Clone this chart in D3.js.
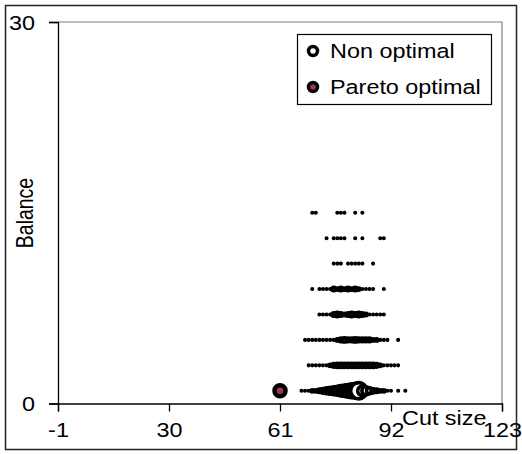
<!DOCTYPE html>
<html>
<head>
<meta charset="utf-8">
<script src="https://cdn.jsdelivr.net/npm/d3@7"></script>
<style>
  body { margin: 0; background: #fff; }
  text { font-family: "Liberation Sans", Arial, sans-serif; fill: #000; }
</style>
</head>
<body>
<div class="vis-bubble"></div>
<script>
// balance levels (y) of the rows of non optimal solutions
const balanceLevels = [1, 3, 5, 7, 9, 11, 13, 15];

// cut sizes and how many solutions sit on each one, per balance row
const cutsB1 = [67, 68, 69, 70, 71, 72, 73, 74, 75, 76, 77, 78, 79, 80, 81, 82, 83, 84, 85, 86, 87, 88, 89, 90, 91, 92, 94, 96];
const countB1 = [1, 1, 1, 2, 2, 3, 5, 8, 11, 14, 18, 24, 30, 36, 43, 50, 60, 20, 15, 8, 4, 3, 2, 2, 1, 1, 1, 1];
const cutsB3 = [69, 70, 71, 72, 73, 74, 75, 76, 77, 78, 79, 80, 81, 82, 83, 84, 85, 86, 87, 88, 89, 90, 91, 92, 93, 94];
const countB3 = [1, 1, 1, 1, 1, 1, 2, 3, 4, 4, 4, 4, 4, 4, 4, 4, 4, 4, 4, 3, 2, 1, 1, 1, 1, 1];
const cutsB5 = [68, 69, 70, 71, 72, 73, 74, 75, 76, 77, 78, 79, 80, 81, 82, 83, 84, 85, 86, 87, 88, 89, 90, 91, 94];
const countB5 = [1, 1, 1, 1, 1, 1, 1, 1, 1, 2, 3, 4, 3, 3, 4, 3, 3, 3, 3, 2, 2, 1, 1, 1, 1];
const cutsB7 = [72, 73, 74, 75, 76, 77, 78, 79, 80, 81, 82, 83, 84, 85, 86, 87, 88, 89, 90];
const countB7 = [1, 1, 1, 1, 3, 4, 3, 2, 3, 4, 3, 4, 3, 2, 1, 1, 1, 1, 1];
const cutsB9 = [70, 72, 73, 74, 75, 76, 77, 78, 79, 80, 81, 82, 83, 84, 85, 86, 87, 90];
const countB9 = [1, 1, 1, 1, 1, 3, 2, 3, 2, 3, 2, 3, 2, 1, 1, 1, 1, 1];
const cutsB11 = [76, 77, 78, 80, 81, 82, 83, 84, 87];
const countB11 = [1, 1, 1, 1, 1, 1, 1, 1, 1];
const cutsB13 = [74, 76, 77, 78, 79, 82, 84, 89, 90];
const countB13 = [1, 1, 1, 1, 1, 1, 1, 1, 1];
const cutsB15 = [70, 71, 77, 78, 79, 82, 84];
const countB15 = [1, 1, 1, 1, 1, 1, 1];

// the single pareto optimal solution
const paretoCut = [61];
const paretoBalance = [1];
const paretoCount = [28];

const xTicks = [-1, 30, 61, 92, 123];
const yTicks = [0, 30];
const seriesNames = ['Non optimal', 'Pareto optimal'];

const draw = () => {
  const W = 522;
  const H = 454;
  const plot = { left: 58, right: 502, top: 22, bottom: 403.5 };
  const stretch = 'scale(1.2,1)';

  const svg = d3.select('.vis-bubble')
    .append('svg')
    .attr('width', W)
    .attr('height', H);

  // outer chart border
  svg.append('rect')
    .attr('x', 5.5).attr('y', 5.5)
    .attr('width', 511).attr('height', 444)
    .attr('fill', 'none')
    .attr('stroke', '#222')
    .attr('stroke-width', 1.5);

  const x = d3.scaleLinear().domain([-1, 123]).range([plot.left, plot.right]);
  const y = d3.scaleLinear().domain([0, 30]).range([plot.bottom, plot.top]);
  const r = d3.scaleSqrt().domain([0, 60]).range([0, 8.13]);
  // heavy border: small bubbles come out solid black
  const sw = (n) => Math.min(3.6, 1.9 * r(n));

  // plot area frame (top / right in grey)
  svg.append('path')
    .attr('d', `M${plot.left},${plot.top}H${plot.right}V${plot.bottom}`)
    .attr('fill', 'none')
    .attr('stroke', '#808080')
    .attr('stroke-width', 1.2);

  // flatten rows into points
  const rows = [
    [cutsB1, countB1], [cutsB3, countB3], [cutsB5, countB5], [cutsB7, countB7],
    [cutsB9, countB9], [cutsB11, countB11], [cutsB13, countB13], [cutsB15, countB15]
  ];
  const nonOpt = [];
  rows.forEach(([cuts, counts], i) => {
    cuts.forEach((c, j) => nonOpt.push({ cut: c, balance: balanceLevels[i], n: counts[j] }));
  });
  const pareto = paretoCut.map((c, i) => ({ cut: c, balance: paretoBalance[i], n: paretoCount[i] }));

  svg.append('g')
    .selectAll('circle')
    .data(nonOpt)
    .enter()
    .append('circle')
    .attr('cx', (d) => x(d.cut))
    .attr('cy', (d) => y(d.balance))
    .attr('r', (d) => r(d.n))
    .attr('fill', '#fff')
    .attr('stroke', '#000')
    .attr('stroke-width', (d) => sw(d.n));

  svg.append('g')
    .selectAll('circle')
    .data(pareto)
    .enter()
    .append('circle')
    .attr('cx', (d) => x(d.cut))
    .attr('cy', (d) => y(d.balance))
    .attr('r', (d) => r(d.n))
    .attr('fill', '#993366')
    .attr('stroke', '#000')
    .attr('stroke-width', 4.5);

  // x axis
  const gx = svg.append('g')
    .attr('transform', `translate(0,${plot.bottom})`)
    .call(d3.axisBottom(x).tickValues(xTicks).tickSize(8).tickFormat((d) => String(d)));
  gx.select('.domain').attr('stroke', '#000').attr('stroke-width', 1.3);
  gx.selectAll('.tick line').attr('stroke', '#000').attr('stroke-width', 1.3);
  gx.selectAll('.tick text')
    .attr('y', 0).attr('dy', null)
    .attr('transform', `translate(0,33.5) ${stretch}`)
    .style('font-size', '19.5px');

  // y axis
  const gy = svg.append('g')
    .attr('transform', `translate(${plot.left},0)`)
    .call(d3.axisLeft(y).tickValues(yTicks).tickSize(9));
  gy.select('.domain').attr('stroke', '#000').attr('stroke-width', 1.3);
  gy.selectAll('.tick line').attr('stroke', '#000').attr('stroke-width', 1.3);
  gy.selectAll('.tick text')
    .attr('x', 0).attr('dy', null)
    .attr('transform', `translate(-23,7) ${stretch}`)
    .style('font-size', '19.5px');

  // axis titles
  svg.append('text')
    .attr('transform', `translate(402,425) ${stretch}`)
    .style('font-size', '19.5px')
    .text('Cut size');

  svg.append('text')
    .attr('transform', `translate(33,213) ${stretch} rotate(-90)`)
    .attr('text-anchor', 'middle')
    .style('font-size', '19.5px')
    .text('Balance');

  // legend
  const legend = svg.append('g');
  legend.append('rect')
    .attr('x', 297.5).attr('y', 34.5)
    .attr('width', 194).attr('height', 70)
    .attr('fill', '#fff')
    .attr('stroke', '#000')
    .attr('stroke-width', 1.2);
  const legendFill = ['#fff', '#993366'];
  seriesNames.forEach((name, i) => {
    const cy = 51 + i * 36;
    legend.append('circle')
      .attr('cx', 313).attr('cy', cy).attr('r', 4.5)
      .attr('fill', legendFill[i])
      .attr('stroke', '#000')
      .attr('stroke-width', 3.5);
    legend.append('text')
      .attr('transform', `translate(330,${cy + 7}) ${stretch}`)
      .style('font-size', '19.5px')
      .text(name);
  });
};

draw();
</script>
</body>
</html>
